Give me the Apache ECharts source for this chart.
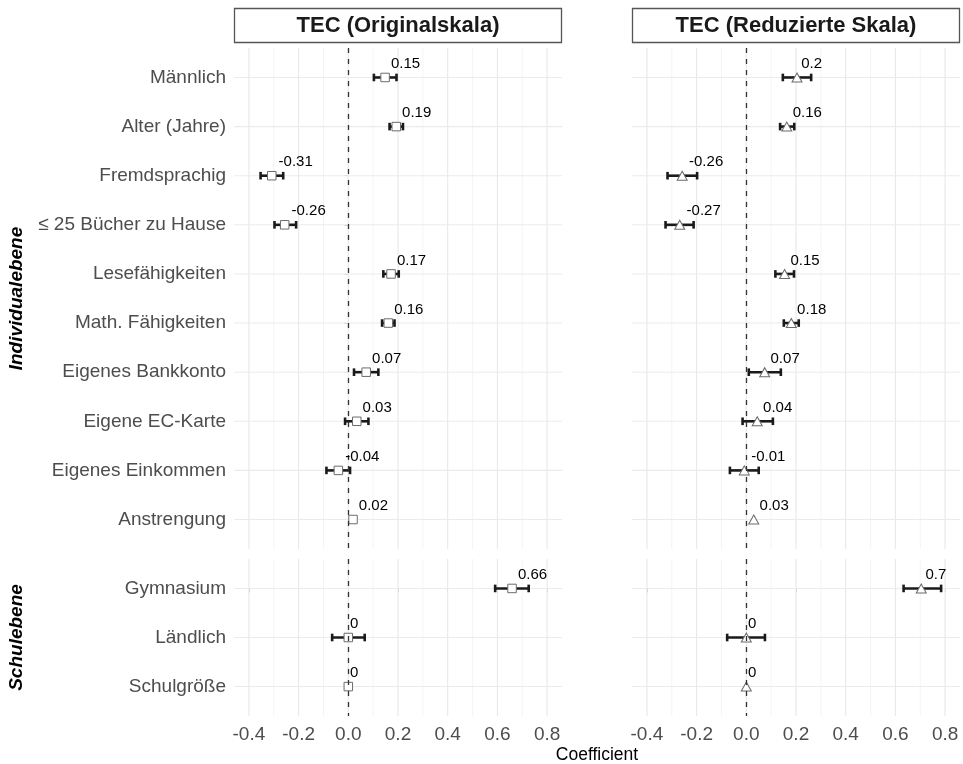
<!DOCTYPE html>
<html>
<head>
<meta charset="utf-8">
<script src="https://cdn.jsdelivr.net/npm/echarts@6/dist/echarts.min.js"></script>
<style>
  html, body { margin: 0; padding: 0; background: #fff; }
  #main { width: 963px; height: 764px; }
</style>
</head>
<body>
<div id="main"></div>
<script>
// categories
const indNames = ['Männlich', 'Alter (Jahre)', 'Fremdsprachig', '≤ 25 Bücher zu Hause', 'Lesefähigkeiten',
  'Math. Fähigkeiten', 'Eigenes Bankkonto', 'Eigene EC-Karte', 'Eigenes Einkommen', 'Anstrengung'];
const schoolNames = ['Gymnasium', 'Ländlich', 'Schulgröße'];

// TEC (Originalskala)
const origEst = [0.148, 0.193, -0.308, -0.256, 0.172, 0.161, 0.072, 0.034, -0.040, 0.019];
const origLow = [0.103, 0.166, -0.353, -0.297, 0.141, 0.136, 0.023, -0.013, -0.088, null];
const origHigh = [0.194, 0.220, -0.262, -0.210, 0.203, 0.186, 0.121, 0.081, 0.007, null];
const origSchoolEst = [0.659, 0.000, 0.000];
const origSchoolLow = [0.591, -0.065, null];
const origSchoolHigh = [0.726, 0.066, null];

// TEC (Reduzierte Skala)
const redEst = [0.204, 0.163, -0.258, -0.268, 0.154, 0.181, 0.074, 0.044, -0.008, 0.030];
const redLow = [0.147, 0.136, -0.317, -0.325, 0.117, 0.151, 0.010, -0.015, -0.066, null];
const redHigh = [0.261, 0.193, -0.198, -0.212, 0.192, 0.211, 0.139, 0.107, 0.050, null];
const redSchoolEst = [0.704, 0.000, 0.000];
const redSchoolLow = [0.633, -0.077, null];
const redSchoolHigh = [0.784, 0.075, null];

// axis ticks
const xTicks = [-0.4, -0.2, 0, 0.2, 0.4, 0.6, 0.8];
const xGridValues = [-0.4, -0.3, -0.2, -0.1, 0, 0.1, 0.2, 0.3, 0.4, 0.5, 0.6, 0.7, 0.8];

const FONT = '"Liberation Sans", Arial, Helvetica, sans-serif';
const fmt = v => String(+v.toFixed(2));

// text width for the hjust-like label offset
const ctx = document.createElement('canvas').getContext('2d');
ctx.font = '15px ' + FONT;
const measure = t => ctx.measureText(t).width;

const panels = [
  { box: { left: 234, top: 48, width: 328, height: 501 }, names: indNames, est: origEst, low: origLow, high: origHigh, symbol: 'rect' },
  { box: { left: 632, top: 48, width: 328, height: 501 }, names: indNames, est: redEst, low: redLow, high: redHigh, symbol: 'triangle' },
  { box: { left: 234, top: 559, width: 328, height: 157 }, names: schoolNames, est: origSchoolEst, low: origSchoolLow, high: origSchoolHigh, symbol: 'rect' },
  { box: { left: 632, top: 559, width: 328, height: 157 }, names: schoolNames, est: redSchoolEst, low: redSchoolLow, high: redSchoolHigh, symbol: 'triangle' }
];

const grids = [], xAxes = [], yAxes = [], series = [];

panels.forEach((p, k) => {
  const isLeft = k % 2 === 0;
  const isBottom = k >= 2;
  const n = p.names.length;
  const idx = p.names.map((_, i) => i);
  grids.push(Object.assign({ containLabel: false }, p.box));
  xAxes.push({
    gridIndex: k, type: 'value', min: -0.46, max: 0.86,
    splitLine: { show: false }, axisLine: { show: false },
    axisTick: { show: isBottom, customValues: xTicks, length: 4, lineStyle: { color: '#c8c8c8' } },
    axisLabel: {
      show: isBottom, customValues: xTicks, margin: 9,
      formatter: v => v.toFixed(1), fontSize: 19, color: '#4d4d4d', fontFamily: FONT
    }
  });
  yAxes.push({
    gridIndex: k, type: 'value', inverse: true, min: -0.6, max: n - 1 + 0.6,
    splitLine: { show: false }, axisLine: { show: false },
    axisTick: { show: isLeft, customValues: idx, length: 4, lineStyle: { color: '#c8c8c8' } },
    axisLabel: {
      show: isLeft, customValues: idx, margin: 8,
      formatter: v => p.names[v] || '', fontSize: 19, color: '#4d4d4d', fontFamily: FONT
    }
  });
  const axisRef = { xAxisIndex: k, yAxisIndex: k };

  // vertical grid lines (major + minor)
  series.push(Object.assign({
    type: 'custom', silent: true, z: 1,
    data: xGridValues.map(v => [v, 0]),
    renderItem: (params, api) => {
      const v = api.value(0);
      const x = api.coord([v, 0])[0];
      const cs = params.coordSys;
      const major = Math.round(v * 10) % 2 === 0;
      return {
        type: 'line',
        shape: { x1: x, y1: cs.y, x2: x, y2: cs.y + cs.height },
        style: { stroke: major ? '#e8e8e8' : '#f1f1f1', lineWidth: major ? 1.1 : 0.8 }
      };
    }
  }, axisRef));

  // horizontal grid lines + zero reference line
  series.push(Object.assign({
    type: 'custom', silent: true, z: 1,
    data: idx.map(i => [0, i]),
    renderItem: (params, api) => {
      const y = api.coord([0, api.value(1)])[1];
      const cs = params.coordSys;
      return {
        type: 'line',
        shape: { x1: cs.x, y1: y, x2: cs.x + cs.width, y2: y },
        style: { stroke: '#ebebeb', lineWidth: 1.1 }
      };
    },
    markLine: {
      silent: true, symbol: 'none', label: { show: false },
      lineStyle: { color: '#333', width: 1.3, type: [5, 6] },
      data: [{ xAxis: 0 }]
    }
  }, axisRef));

  // error bars
  series.push(Object.assign({
    type: 'custom', silent: true, z: 3,
    encode: { x: [1, 2], y: 0 },
    data: p.low.map((l, i) => (l == null ? null : [i, l, p.high[i]])).filter(Boolean),
    renderItem: (params, api) => {
      const i = api.value(0);
      const a = api.coord([api.value(1), i]);
      const b = api.coord([api.value(2), i]);
      const h = 3.8;
      const st = { stroke: '#1a1a1a', lineWidth: 2.6 };
      return {
        type: 'group',
        children: [
          { type: 'line', shape: { x1: a[0], y1: a[1], x2: b[0], y2: b[1] }, style: st },
          { type: 'line', shape: { x1: a[0], y1: a[1] - h, x2: a[0], y2: a[1] + h }, style: st },
          { type: 'line', shape: { x1: b[0], y1: b[1] - h, x2: b[0], y2: b[1] + h }, style: st }
        ]
      };
    }
  }, axisRef));

  // point estimates
  series.push(Object.assign({
    type: 'scatter', silent: true, z: 4,
    symbol: p.symbol,
    symbolSize: p.symbol === 'rect' ? 8.5 : [10, 9],
    itemStyle: { color: '#ffffff', borderColor: '#6b6b6b', borderWidth: 1, opacity: 1 },
    data: p.est.map((v, i) => [v, i])
  }, axisRef));

  // value labels
  series.push(Object.assign({
    type: 'custom', silent: true, z: 5,
    data: p.est.map((v, i) => [v, i]),
    renderItem: (params, api) => {
      const pt = api.coord([api.value(0), api.value(1)]);
      const txt = fmt(p.est[params.dataIndex]);
      return {
        type: 'text',
        x: pt[0] + 0.2 * measure(txt),
        y: pt[1] - 13.5,
        style: { text: txt, font: '15px ' + FONT, fill: '#000', align: 'left', verticalAlign: 'middle' }
      };
    }
  }, axisRef));
});

const stripTitles = ['TEC (Originalskala)', 'TEC (Reduzierte Skala)'];
const rowTitles = ['Individualebene', 'Schulebene'];

const graphics = [];
stripTitles.forEach((t, k) => {
  const b = panels[k].box;
  graphics.push({
    type: 'rect', shape: { x: b.left + 0.5, y: 8.5, width: b.width - 1, height: 34 },
    style: { fill: '#fff', stroke: '#555', lineWidth: 1.3 }
  });
  graphics.push({
    type: 'text', x: b.left + b.width / 2, y: 26,
    style: { text: t, font: 'bold 22px ' + FONT, fill: '#1a1a1a', align: 'center', verticalAlign: 'middle' }
  });
});
rowTitles.forEach((t, k) => {
  const b = panels[k * 2].box;
  graphics.push({
    type: 'text', x: 17, y: b.top + b.height / 2, rotation: Math.PI / 2,
    style: { text: t, font: 'italic bold 19px ' + FONT, fill: '#000', align: 'center', verticalAlign: 'middle' }
  });
});
graphics.push({
  type: 'text', x: (panels[0].box.left + panels[1].box.left + panels[1].box.width) / 2, y: 755,
  style: { text: 'Coefficient', font: '17.5px ' + FONT, fill: '#000', align: 'center', verticalAlign: 'middle' }
});

const chart = echarts.init(document.getElementById('main'));
chart.setOption({
  backgroundColor: '#fff',
  animation: false,
  grid: grids,
  xAxis: xAxes,
  yAxis: yAxes,
  series: series,
  graphic: graphics
});
</script>
</body>
</html>
